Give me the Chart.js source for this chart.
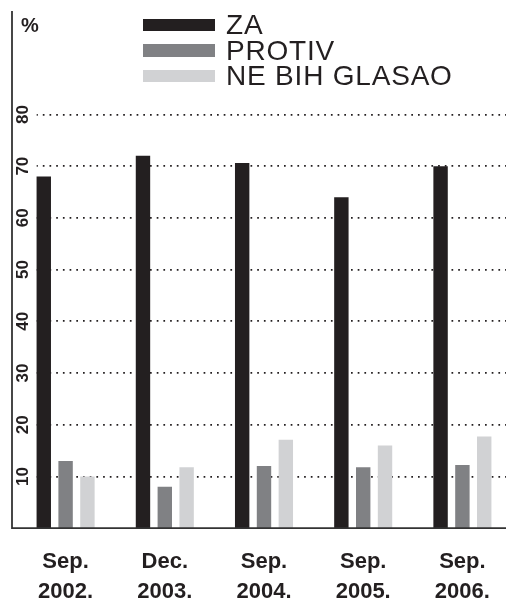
<!DOCTYPE html>
<html lang="sr">
  <head>
    <meta charset="UTF-8" />
    <title>ZA / PROTIV</title>
    <style>
      html, body { margin: 0; padding: 0; background: #fff; overflow: hidden; }
      body { width: 506px; height: 600px; position: relative; font-family: "Liberation Sans", Arial, sans-serif; color: #231f20; }
      #wrap { position: absolute; left: 0; top: 0; width: 512px; height: 618px; }
      .pct { position: absolute; left: 21px; top: 14px; font-weight: bold; font-size: 20px; }
      .legend { position: absolute; left: 143px; top: 12px; }
      .legend .row { display: flex; align-items: center; height: 25.5px; }
      .legend .sw { width: 72px; height: 12.5px; margin-right: 11px; }
      .legend span { font-size: 28px; letter-spacing: 0.8px; line-height: 25px; }
    </style>
  </head>
  <body>
    <div id="wrap"><canvas id="chart" width="512" height="618"></canvas></div>
    <div class="pct">%</div>
    <div class="legend" id="legend"></div>

    <script src="https://cdn.jsdelivr.net/npm/chart.js"></script>
    <script>
      // podaci
      var categories = [["Sep.", "2002."], ["Dec.", "2003."], ["Sep.", "2004."], ["Sep.", "2005."], ["Sep.", "2006."]];
      var seriesNames = ["ZA", "PROTIV", "NE BIH GLASAO"];
      var za = [68, 72, 70.6, 64, 70];
      var protiv = [13, 8, 12, 11.8, 12.2];
      var neBihGlasao = [10, 11.8, 17.1, 16, 17.7];
      var yTicks = [10, 20, 30, 40, 50, 60, 70, 80];

      var colors = ["#231f20", "#808184", "#d1d2d4"];
      var ink = "#231f20";
      var font = "'Liberation Sans', Arial, sans-serif";

      // legenda
      var legend = document.getElementById("legend");
      seriesNames.forEach(function (name, i) {
        var row = document.createElement("div");
        row.className = "row";
        row.innerHTML = '<div class="sw" style="background:' + colors[i] + '"></div><span>' + name + "</span>";
        legend.appendChild(row);
      });

      // osa (L oblik) malo lijevo od grafikona
      var axisLines = {
        id: "axisLines",
        afterDraw: function (chart) {
          var a = chart.chartArea;
          var c = chart.ctx;
          c.save();
          c.strokeStyle = "#333";
          c.lineWidth = 1.8;
          c.beginPath();
          c.moveTo(a.left - 4, a.top);
          c.lineTo(a.left - 4, a.bottom);
          c.lineTo(a.right, a.bottom);
          c.stroke();
          c.restore();
        },
      };

      function ds(label, data, i) {
        return {
          label: label,
          data: data,
          backgroundColor: colors[i],
          borderWidth: 0,
          barPercentage: 0.66,
          categoryPercentage: 0.66,
        };
      }

      var ctx = document.getElementById("chart").getContext("2d");
      var chart = new Chart(ctx, {
        type: "bar",
        data: {
          labels: categories,
          datasets: [ds(seriesNames[0], za, 0), ds(seriesNames[1], protiv, 1), ds(seriesNames[2], neBihGlasao, 2)],
        },
        options: {
          responsive: false,
          animation: false,
          layout: { padding: { left: 16, top: 11, right: 0, bottom: 0 } },
          plugins: { legend: { display: false }, tooltip: { enabled: false } },
          scales: {
            x: {
              grid: { display: false },
              border: { display: false },
              ticks: {
                color: ink,
                padding: 11,
                font: { family: font, size: 22, weight: "bold", lineHeight: 1.36 },
              },
            },
            y: {
              min: 0,
              max: 100,
              afterBuildTicks: function (scale) {
                scale.ticks = yTicks.map(function (v) { return { value: v }; });
              },
              afterFit: function (scale) {
                scale.width = 0; // oznake su unutar grafikona
              },
              border: { display: false, dash: [1.7, 5] },
              grid: {
                color: ink,
                lineWidth: 1.7,
                drawTicks: false,
              },
              ticks: {
                mirror: true,
                crossAlign: "center",
                minRotation: 90,
                maxRotation: 90,
                padding: -2,
                color: ink,
                showLabelBackdrop: true,
                backdropColor: "#fff",
                backdropPadding: { top: 3, bottom: 3, left: 2, right: 2 },
                font: { family: font, size: 17, weight: "bold" },
              },
            },
          },
        },
        plugins: [axisLines],
      });
    </script>
  </body>
</html>
